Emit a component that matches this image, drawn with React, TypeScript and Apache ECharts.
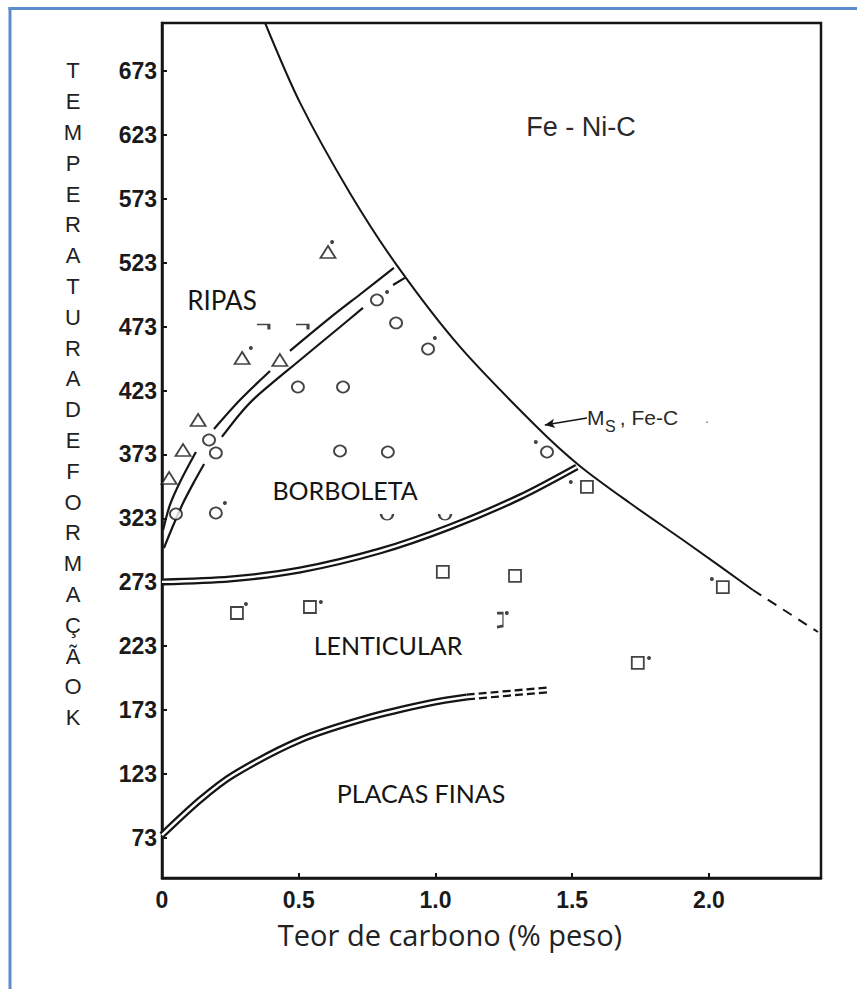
import React, { useEffect, useRef } from 'react';
import * as echarts from 'echarts';

// ---------- axis ticks ----------
const yTicks = [73, 123, 173, 223, 273, 323, 373, 423, 473, 523, 573, 623, 673];
const xTicks = [0, 0.5, 1.0, 1.5, 2.0];
const yAxisLetters = 'TEMPERATURADEFORMAÇÃOK'.split('');

// ---------- curves (x = % C, y = K) ----------
const msFeC: [number, number][] = [
  [0.377, 710.5], [0.505, 648.0], [0.687, 577.6], [0.863, 519.7], [1.09, 457.1],
  [1.371, 394.5], [1.528, 364.0], [1.711, 335.0], [1.931, 302.2], [2.161, 267],
];
const msFeCDashed: [number, number][] = [[2.161, 267], [2.399, 234.1]];

const ripasLeft: [number, number | null][] = [
  [0.004, 313.9], [0.029, 333.5], [0.066, 351.5], [0.124, 374.9], [0.16, null],
  [0.19, 392.9], [0.285, 415.6], [0.395, 438.3], [0.43, null],
  [0.468, 454], [0.614, 479.8], [0.731, 499.3], [0.848, 518.9],
];
const ripasRight: [number, number | null][] = [
  [0.007, 299.8], [0.037, 315.5], [0.077, 335], [0.121, 353], [0.154, 365.6], [0.19, null],
  [0.219, 386.7], [0.285, 404.7], [0.344, 418], [0.505, 446.9], [0.651, 472.7], [0.735, 487.6], [0.79, null],
  [0.845, 505.6], [0.888, 511.1],
];
const borboletaLenticular: [number, number][] = [
  [0, 273.3], [0.249, 275.6], [0.505, 282.6], [0.797, 297.5], [1.053, 316.3], [1.309, 339.7], [1.517, 363.2],
];
const placasFinas: [number, number][] = [
  [0, 75.3], [0.139, 102.7], [0.26, 122.3], [0.505, 149.6], [0.75, 166.9], [0.98, 178.6], [1.115, 183.3],
];
const placasFinasDashed: [number, number][] = [[1.115, 183.3], [1.408, 188.8]];

// ---------- data points ----------
const triangles: [number, number][] = [
  [0.607, 531.4], [0.293, 448.5], [0.431, 446.9], [0.132, 400], [0.077, 376.5], [0.026, 354.6],
];
const circles: [number, number][] = [
  [0.786, 493.9], [0.856, 475.9], [0.973, 455.5], [0.497, 425.8], [0.662, 425.8], [0.172, 384.3],
  [0.197, 374.2], [0.651, 375.7], [0.826, 374.9], [0.051, 326.4], [0.197, 327.2], [1.408, 374.9],
];
const halfCircles: [number, number][] = [[0.823, 324.1], [1.035, 324.1]];
const squares: [number, number][] = [
  [0.274, 249], [0.541, 253.7], [1.027, 281.1], [1.291, 278], [1.554, 347.6], [2.051, 269.3], [1.74, 209.9],
];
const brokenSquares: [number, number][] = [[1.236, 243.5]];
const hooks: [number, number][] = [[0.369, 472.7], [0.512, 472.7]];
const dots: [number, number][] = [
  [0.622, 539.2], [0.325, 456.3], [0.823, 500.1], [0.998, 464.1], [0.23, 335], [1.367, 382.8],
  [1.495, 351.5], [2.011, 275.6], [0.307, 256], [0.581, 257.6], [1.781, 213.8], [1.261, 249],
];
const msArrow: [number, number][] = [[1.554, 401.5], [1.4, 396.1]];

const INK = '#151515';
const SANS = '"Liberation Sans", Arial, sans-serif';

export default function App() {
  const ref = useRef<HTMLDivElement>(null);
  useEffect(() => {
    document.body.style.margin = '0';
    const chart = echarts.init(ref.current!, null, { renderer: 'svg' });

    const curve = (data: any[], width: number, color: string, type: any = 'solid', z = 2) => ({
      type: 'line', data, symbol: 'none', smooth: 0.3, z, silent: true,
      connectNulls: false,
      lineStyle: { width, color, type, cap: 'butt' },
    });
    const marker = (data: any[], symbol: string, size: any, fill = '#fff') => ({
      type: 'scatter', data, symbol, symbolSize: size, z: 6, silent: true,
      itemStyle: { color: fill, borderColor: INK, borderWidth: 1.8 },
    });

    const labelFont = 'Lato, "Open Sans", sans-serif';
    const txt = (text: string, x: number, y: number, size: number, extra: any = {}) => ({
      type: 'text', x, y, silent: true,
      style: {
        text, fontSize: size, fontFamily: labelFont, fill: INK,
        align: 'center', verticalAlign: 'middle', ...extra,
      },
    });

    chart.setOption({
      animation: false,
      backgroundColor: '#fff',
      grid: { left: 162, top: 23, width: 659, height: 855, show: true, borderColor: INK, borderWidth: 2.5, backgroundColor: 'transparent' },
      xAxis: {
        type: 'value', min: 0, max: 2.41,
        axisLine: { show: true, lineStyle: { color: INK, width: 2.5 } },
        axisTick: { show: true, inside: true, length: 5, customValues: xTicks, lineStyle: { color: INK, width: 2 } },
        axisLabel: {
          customValues: xTicks, margin: 10, fontSize: 23, color: '#1a1a1a', fontWeight: 'bold',
          fontFamily: SANS,
          formatter: (v: number) => (v === 0 ? '0' : v.toFixed(1)),
        },
        splitLine: { show: false },
      },
      yAxis: {
        type: 'value', min: 41.7, max: 710.5,
        axisLine: { show: true, lineStyle: { color: INK, width: 2.5 } },
        axisTick: { show: true, inside: true, length: 5, customValues: yTicks, lineStyle: { color: INK, width: 2 } },
        axisLabel: {
          customValues: yTicks, margin: 5, fontSize: 23, color: '#1a1a1a', fontWeight: 'bold',
          fontFamily: SANS,
        },
        splitLine: { show: false },
      },
      series: [
        {
          ...curve(msFeC, 2, INK),
          markLine: {
            silent: true, symbol: ['none', 'arrow'], symbolSize: [7, 10],
            label: { show: false },
            lineStyle: { color: INK, width: 1.5, type: 'solid' },
            data: [[{ coord: msArrow[0] }, { coord: msArrow[1] }]],
          },
        },
        curve(msFeCDashed, 2, INK, [10, 8]),
        curve(ripasLeft, 2.2, INK),
        curve(ripasRight, 2.2, INK),
        curve(borboletaLenticular, 7, INK),
        curve(borboletaLenticular, 2.4, '#fff', 'solid', 3),
        curve(placasFinas, 7, INK),
        curve(placasFinas, 2.4, '#fff', 'solid', 3),
        curve(placasFinasDashed, 7, INK, [8, 4]),
        curve(placasFinasDashed, 2.4, '#fff', 'solid', 3),
        marker(triangles, 'triangle', [15, 12]),
        marker(circles, 'circle', [12, 11]),
        marker(squares, 'rect', [12, 12]),
        {
          type: 'scatter', data: halfCircles, symbol: 'path://M0,0 A6,6 0 0 0 12,0', symbolSize: [12, 6],
          z: 6, silent: true, itemStyle: { color: 'none', borderColor: INK, borderWidth: 1.8 },
        },
        {
          type: 'scatter', data: brokenSquares, symbol: 'path://M0,0 L5,0 L5,12 L0,13', symbolSize: [6, 14],
          z: 6, silent: true, itemStyle: { color: 'none', borderColor: INK, borderWidth: 1.8 },
        },
        {
          type: 'scatter', data: hooks, symbol: 'path://M0,0 L12,0 L12,5', symbolSize: [12, 5],
          z: 6, silent: true, itemStyle: { color: 'none', borderColor: INK, borderWidth: 2 },
        },
        {
          type: 'scatter', data: dots, symbol: 'circle', symbolSize: 4, z: 7, silent: true,
          itemStyle: { color: INK },
        },
      ],
      graphic: [
        { type: 'line', silent: true, shape: { x1: 10, y1: 7, x2: 10, y2: 989 }, style: { stroke: '#5b8bd1', lineWidth: 3 } },
        { type: 'line', silent: true, shape: { x1: 8.5, y1: 8.5, x2: 857, y2: 8.5 }, style: { stroke: '#5b8bd1', lineWidth: 3 } },
        {
          type: 'text', x: 73, y: 71 - 15.4, silent: true,
          style: {
            text: yAxisLetters.join('\n'), fontSize: 22, lineHeight: 30.8,
            fontFamily: SANS, fill: '#222',
            align: 'center', verticalAlign: 'top',
          },
        },
        txt('Teor de carbono (% peso)', 450, 934, 29, { fill: '#222', fontFamily: '"Open Sans", Lato, sans-serif' }),
        txt('RIPAS', 222, 300, 26),
        txt('BORBOLETA', 345, 490, 25),
        txt('LENTICULAR', 388, 645, 25),
        txt('PLACAS FINAS', 421, 793, 25),
        txt('Fe - Ni-C', 581, 127, 27, { fontFamily: SANS, fill: '#2a2a2a' }),
        txt('M', 587, 417, 21, { align: 'left', fontFamily: SANS, fill: '#2a2a2a' }),
        txt('S', 605, 426, 16, { align: 'left', fontFamily: SANS, fill: '#2a2a2a' }),
        txt(' , Fe-C', 614, 417, 21, { align: 'left', fontFamily: SANS, fill: '#2a2a2a' }),
        txt('.', 705, 418, 14, { align: 'left', fontFamily: SANS, fill: '#777' }),
      ],
    });
    return () => chart.dispose();
  }, []);
  return <div ref={ref} style={{ position: 'absolute', left: 0, top: 0, width: 857, height: 989 }} />;
}
